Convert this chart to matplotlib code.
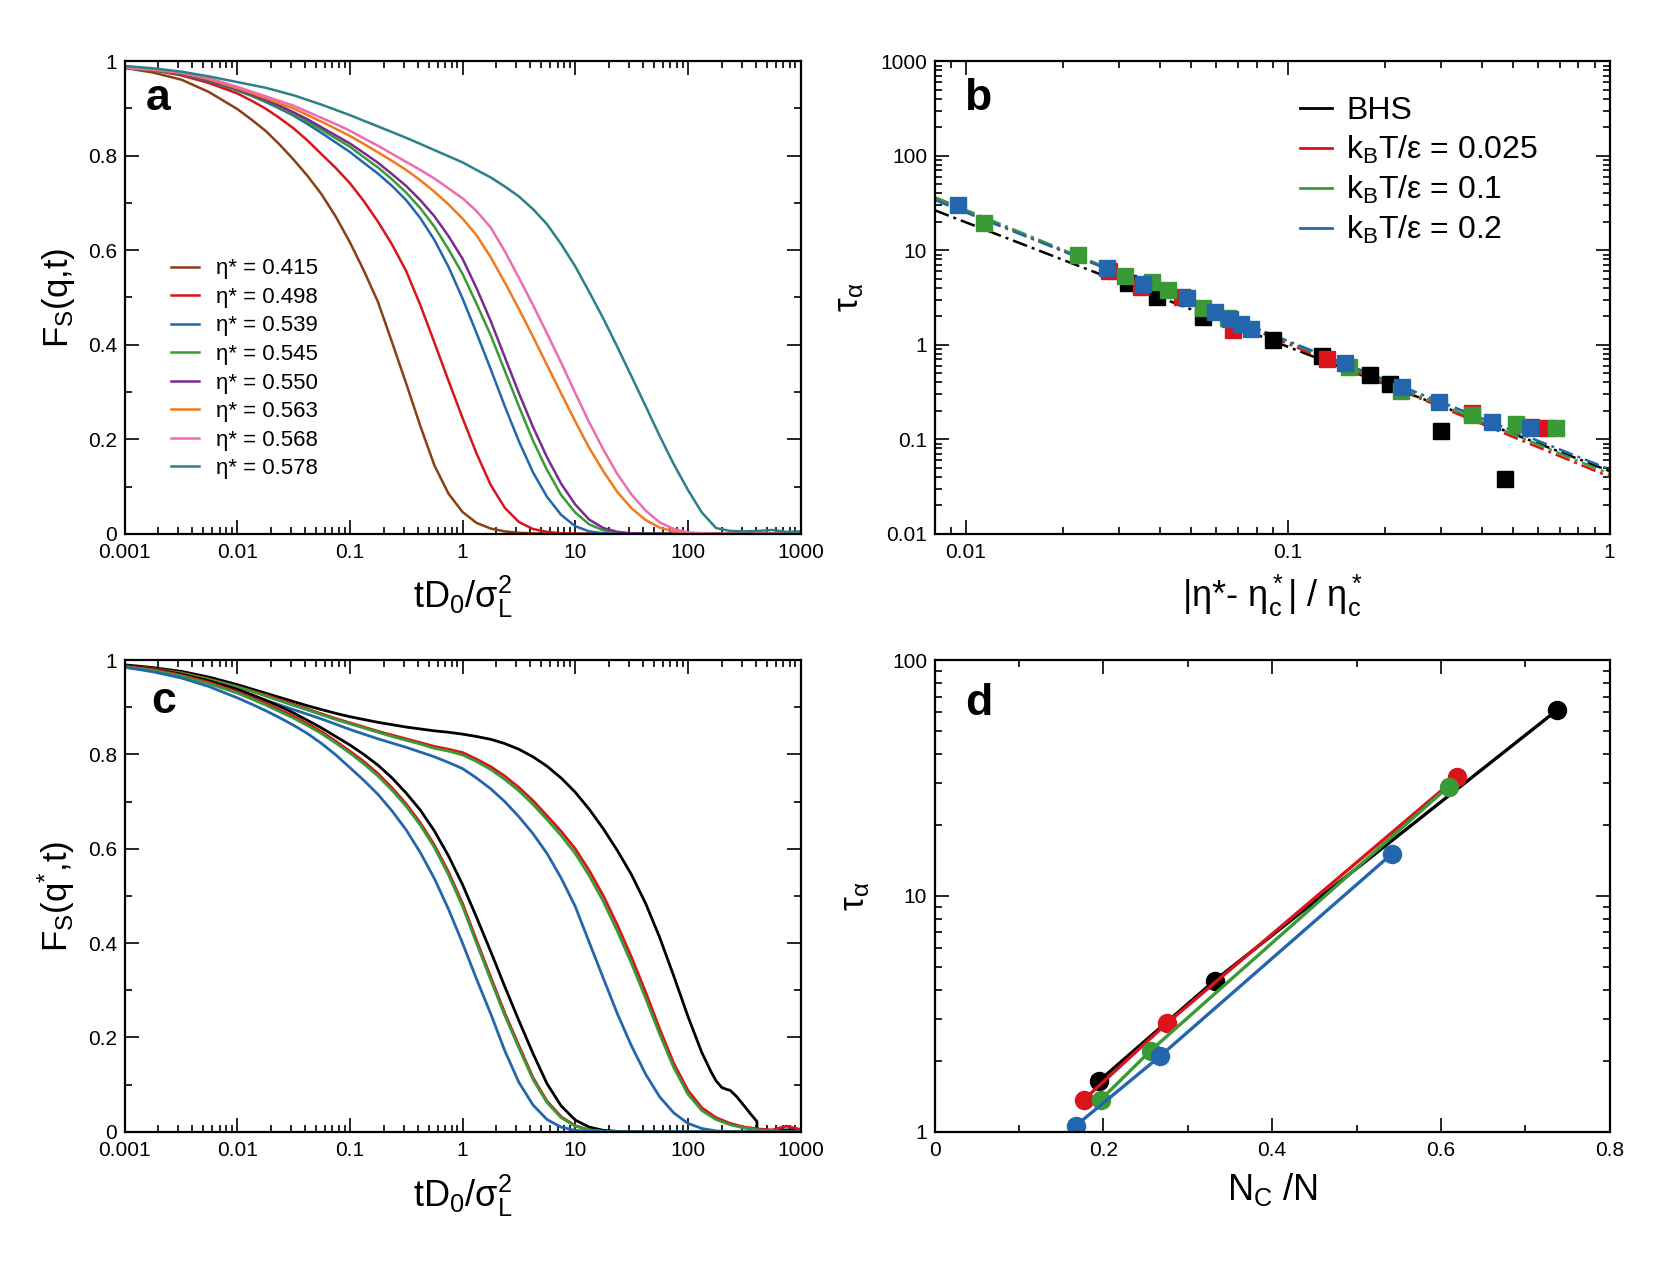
import matplotlib
matplotlib.use('Agg')
import numpy as np
import matplotlib.pyplot as plt
from matplotlib.lines import Line2D
from matplotlib.ticker import FixedLocator, NullFormatter, LogLocator, MultipleLocator

plt.rcParams['font.family'] = ['Liberation Sans', 'DejaVu Sans']
plt.rcParams['mathtext.fontset'] = 'custom'
plt.rcParams['mathtext.rm'] = 'Liberation Sans'
plt.rcParams['mathtext.it'] = 'Liberation Sans'
plt.rcParams['mathtext.bf'] = 'Liberation Sans:bold'

# ---- data ----
# time grid tD0/sigma^2: coarse below 0.01, eighth decades above
t_grid = [0.001, 0.0018, 0.0032, 0.0056,
          0.01, 0.0133, 0.0178, 0.0237, 0.0316, 0.0422, 0.0562, 0.075,
          0.1, 0.133, 0.178, 0.237, 0.316, 0.422, 0.562, 0.75,
          1, 1.33, 1.78, 2.37, 3.16, 4.22, 5.62, 7.5,
          10, 13.3, 17.8, 23.7, 31.6, 42.2, 56.2, 75,
          100, 133, 178, 237, 316, 422, 562, 750, 1000]

# panel a: F_s(q,t) for several packing fractions
eta_labels = ['η* = 0.415', 'η* = 0.498', 'η* = 0.539', 'η* = 0.545',
              'η* = 0.550', 'η* = 0.563', 'η* = 0.568', 'η* = 0.578']
eta_colors = ['#8b3f14', '#d9141b', '#2466ae', '#3a9a35',
              '#7a2b8e', '#f07a1c', '#ec6cb4', '#2c8088']
fa_0415 = [0.986, 0.976, 0.961, 0.935,
           0.899, 0.877, 0.853, 0.824, 0.792, 0.757, 0.718, 0.671, 0.617, 0.557,
           0.490, 0.405, 0.318, 0.228, 0.145, 0.085, 0.046, 0.023, 0.011, 0.005,
           0.002, 0.001] + [0] * 19
fa_0498 = [0.986, 0.981, 0.970, 0.954,
           0.932, 0.917, 0.900, 0.880, 0.858, 0.832, 0.803, 0.774, 0.742, 0.704,
           0.660, 0.612, 0.556, 0.484, 0.405, 0.324, 0.245, 0.170, 0.103, 0.055,
           0.025, 0.010, 0.004, 0.001] + [0] * 17
fa_0539 = [0.986, 0.981, 0.973, 0.958,
           0.938, 0.927, 0.914, 0.900, 0.885, 0.867, 0.848, 0.828, 0.808, 0.785,
           0.762, 0.736, 0.706, 0.668, 0.622, 0.565, 0.498, 0.425, 0.348, 0.270,
           0.196, 0.130, 0.078, 0.040, 0.016, 0.005, 0.001] + [0] * 14
fa_0545 = [0.986, 0.981, 0.973, 0.959,
           0.939, 0.928, 0.916, 0.903, 0.888, 0.872, 0.855, 0.837, 0.819, 0.797,
           0.775, 0.750, 0.722, 0.689, 0.650, 0.602, 0.550, 0.487, 0.420, 0.345,
           0.270, 0.197, 0.135, 0.082, 0.045, 0.020, 0.007, 0.002] + [0] * 13
fa_0550 = [0.986, 0.982, 0.974, 0.960,
           0.941, 0.930, 0.918, 0.906, 0.892, 0.877, 0.860, 0.843, 0.826, 0.806,
           0.785, 0.761, 0.736, 0.706, 0.672, 0.630, 0.582, 0.520, 0.450, 0.374,
           0.298, 0.226, 0.162, 0.106, 0.062, 0.030, 0.012, 0.004, 0.001] + [0] * 12
fa_0563 = [0.986, 0.982, 0.975, 0.962,
           0.943, 0.933, 0.922, 0.911, 0.900, 0.886, 0.872, 0.857, 0.842, 0.825,
           0.807, 0.789, 0.770, 0.748, 0.724, 0.697, 0.667, 0.632, 0.585, 0.532,
           0.476, 0.417, 0.357, 0.297, 0.238, 0.182, 0.132, 0.088, 0.054, 0.029,
           0.013, 0.005, 0.001] + [0] * 8
fa_0568 = [0.987, 0.983, 0.976, 0.964,
           0.946, 0.936, 0.926, 0.916, 0.906, 0.893, 0.880, 0.867, 0.853, 0.837,
           0.821, 0.804, 0.787, 0.770, 0.752, 0.731, 0.710, 0.683, 0.648, 0.598,
           0.542, 0.484, 0.424, 0.362, 0.298, 0.236, 0.178, 0.126, 0.083, 0.049,
           0.024, 0.010, 0.003, 0.001] + [0] * 7
fa_0578 = [0.990, 0.985, 0.978, 0.968,
           0.956, 0.950, 0.944, 0.936, 0.928, 0.918, 0.908, 0.897, 0.886, 0.874,
           0.862, 0.850, 0.838, 0.825, 0.812, 0.799, 0.786, 0.770, 0.754, 0.735,
           0.714, 0.687, 0.655, 0.613, 0.566, 0.512, 0.455, 0.395, 0.333, 0.270,
           0.207, 0.147, 0.093, 0.045, 0.012, 0.006, 0.005, 0.006, 0.008, 0.004, 0.005]
fa_curves = [fa_0415, fa_0498, fa_0539, fa_0545, fa_0550, fa_0563, fa_0568, fa_0578]

# panel b: tau_alpha vs distance to critical packing
bhs_x = [0.0319, 0.0392, 0.0547, 0.0900, 0.128, 0.180, 0.208, 0.300, 0.474]
bhs_y = [4.47, 3.22, 1.98, 1.13, 0.76, 0.477, 0.384, 0.123, 0.0377]
k025_x = [0.0278, 0.035, 0.0468, 0.0678, 0.132, 0.373, 0.570, 0.640]
k025_y = [6.0, 4.1, 3.22, 1.43, 0.70, 0.188, 0.135, 0.130]
k01_x = [0.0114, 0.0223, 0.0312, 0.0378, 0.0426, 0.0547, 0.0654, 0.155, 0.224,
         0.373, 0.512, 0.679]
k01_y = [19.2, 8.9, 5.33, 4.65, 3.79, 2.43, 1.9, 0.585, 0.326, 0.180, 0.145, 0.130]
k02_x = [0.00946, 0.0274, 0.0355, 0.0485, 0.0594, 0.0660, 0.0716, 0.0769, 0.151,
         0.226, 0.294, 0.431, 0.567]
k02_y = [30.1, 6.43, 4.39, 3.1, 2.23, 1.88, 1.65, 1.48, 0.635, 0.354, 0.245, 0.151, 0.130]
# power-law fits (end points)
fit_x = [0.008, 1.0]
fit_bhs = [26.5, 0.046]
fit_k025 = [36.0, 0.040]
fit_k01 = [36.5, 0.043]
fit_k02 = [34.0, 0.048]
b_labels = ['BHS', r'k$_\mathregular{B}$T/ε = 0.025', r'k$_\mathregular{B}$T/ε = 0.1',
            r'k$_\mathregular{B}$T/ε = 0.2']
b_colors = ['black', '#d9141b', '#3a9a35', '#2466ae']

# panel c: F_s(q*,t), two densities, four temperatures
fc_fast_black = [0.988, 0.981, 0.970, 0.956,
                 0.938, 0.927, 0.915, 0.902, 0.888, 0.872, 0.856, 0.838, 0.820, 0.800,
                 0.777, 0.750, 0.718, 0.682, 0.638, 0.585, 0.524, 0.455, 0.382, 0.308,
                 0.236, 0.166, 0.102, 0.055, 0.025, 0.010, 0.003, 0.001] + [0] * 13
fc_fast_red = [0.987, 0.980, 0.968, 0.953,
               0.933, 0.921, 0.909, 0.895, 0.881, 0.865, 0.848, 0.828, 0.807, 0.785,
               0.759, 0.729, 0.695, 0.655, 0.608, 0.551, 0.484, 0.406, 0.328, 0.252,
               0.183, 0.115, 0.065, 0.032, 0.013, 0.004, 0.001] + [0] * 14
fc_fast_green = [0.986, 0.978, 0.966, 0.950,
                 0.930, 0.918, 0.905, 0.891, 0.877, 0.861, 0.844, 0.824, 0.803, 0.780,
                 0.754, 0.724, 0.690, 0.650, 0.603, 0.545, 0.478, 0.400, 0.322, 0.247,
                 0.178, 0.111, 0.062, 0.030, 0.012, 0.004, 0.001] + [0] * 14
fc_fast_blue = [0.985, 0.975, 0.962, 0.944,
                0.920, 0.907, 0.893, 0.878, 0.862, 0.844, 0.823, 0.799, 0.772, 0.745,
                0.715, 0.680, 0.640, 0.592, 0.537, 0.472, 0.400, 0.324, 0.250, 0.172,
                0.105, 0.057, 0.026, 0.010, 0.003, 0.001] + [0] * 15
fc_slow_red = [0.988, 0.982, 0.973, 0.960,
               0.944, 0.935, 0.926, 0.916, 0.906, 0.896, 0.886, 0.876, 0.867, 0.858,
               0.849, 0.841, 0.833, 0.825, 0.817, 0.811, 0.804, 0.790, 0.774, 0.754,
               0.730, 0.702, 0.670, 0.637, 0.600, 0.554, 0.500, 0.438, 0.370, 0.296,
               0.218, 0.145, 0.088, 0.051, 0.030, 0.018, 0.010, 0.006, 0.004, 0.012, 0.005]
fc_slow_green = [0.987, 0.981, 0.972, 0.959,
                 0.943, 0.934, 0.924, 0.914, 0.904, 0.894, 0.884, 0.874, 0.865, 0.856,
                 0.847, 0.838, 0.830, 0.822, 0.813, 0.807, 0.799, 0.785, 0.768, 0.747,
                 0.723, 0.694, 0.662, 0.628, 0.590, 0.543, 0.488, 0.425, 0.357, 0.283,
                 0.207, 0.136, 0.080, 0.045, 0.026, 0.015, 0.008, 0.004, 0.002, 0.001, 0]
fc_slow_blue = [0.985, 0.977, 0.967, 0.953,
                0.935, 0.925, 0.915, 0.905, 0.895, 0.885, 0.875, 0.864, 0.853, 0.843,
                0.833, 0.824, 0.815, 0.805, 0.795, 0.783, 0.770, 0.750, 0.727, 0.700,
                0.668, 0.632, 0.590, 0.538, 0.478, 0.402, 0.325, 0.250, 0.182, 0.122,
                0.074, 0.040, 0.018, 0.007, 0.002] + [0] * 6
# slow BHS curve has a shoulder and a sharp drop near t = 410
t_slow_black = t_grid[:38] + [160, 178, 200, 220, 237, 270, 316, 360, 400, 410, 412,
                              562, 750, 1000]
fc_slow_black = [0.990, 0.984, 0.976, 0.964,
                 0.948, 0.939, 0.930, 0.921, 0.912, 0.903, 0.895, 0.887, 0.880, 0.874,
                 0.868, 0.863, 0.858, 0.854, 0.850, 0.847, 0.843, 0.838, 0.832, 0.823,
                 0.811, 0.795, 0.775, 0.750, 0.720, 0.684, 0.642, 0.596, 0.545, 0.484,
                 0.412, 0.330, 0.245, 0.168,
                 0.128, 0.108, 0.094, 0.090, 0.088, 0.075, 0.055, 0.038, 0.025, 0.022,
                 0.0, 0.003, 0.004, 0.004]

# panel d: tau_alpha vs N_C/N
d_bhs_x = [0.1945, 0.332, 0.738]
d_bhs_y = [1.64, 4.38, 61.5]
d_k025_x = [0.177, 0.275, 0.619]
d_k025_y = [1.37, 2.88, 31.8]
d_k01_x = [0.197, 0.256, 0.609]
d_k01_y = [1.37, 2.21, 29.1]
d_k02_x = [0.167, 0.267, 0.542]
d_k02_y = [1.06, 2.09, 15.1]

t_ticks = [0.001, 0.01, 0.1, 1, 10, 100, 1000]
t_ticklabels = ['0.001', '0.01', '0.1', '1', '10', '100', '1000']
f_ticks = [0, 0.2, 0.4, 0.6, 0.8, 1]
f_ticklabels = ['0', '0.2', '0.4', '0.6', '0.8', '1']

# ---- figure ----
fig = plt.figure(figsize=(16.54, 12.76), dpi=100)
ax_a = fig.add_axes([0.0753, 0.5817, 0.4087, 0.3703])
ax_b = fig.add_axes([0.5651, 0.5817, 0.4081, 0.3703])
ax_c = fig.add_axes([0.0753, 0.1130, 0.4087, 0.3697])
ax_d = fig.add_axes([0.5651, 0.1130, 0.4081, 0.3697])

TICK_FS = 15
LABEL_FS = 25


def style(ax):
    for s in ax.spines.values():
        s.set_linewidth(1.6)
    ax.tick_params(which='both', direction='in', top=True, right=True,
                   labelsize=TICK_FS, width=1.2)
    ax.tick_params(axis='x', which='both', pad=6.5)
    ax.tick_params(axis='y', which='both', pad=5.5)
    ax.tick_params(which='major', length=10)
    ax.tick_params(which='minor', length=5)


def time_axis(ax):
    ax.set_xscale('log')
    ax.set_xlim(0.001, 1000)
    ax.set_ylim(0, 1)
    ax.xaxis.set_major_locator(FixedLocator(t_ticks))
    ax.set_xticklabels(t_ticklabels)
    ax.xaxis.set_minor_locator(LogLocator(base=10, subs=np.arange(2, 10), numticks=20))
    ax.xaxis.set_minor_formatter(NullFormatter())
    ax.set_yticks(f_ticks)
    ax.set_yticklabels(f_ticklabels)
    ax.yaxis.set_minor_locator(MultipleLocator(0.1))
    ax.set_xlabel(r'tD$_\mathregular{0}$/σ$_\mathregular{L}^\mathregular{2}$',
                  fontsize=LABEL_FS + 1, labelpad=9)


# panel a
for f, c, lab in zip(fa_curves, eta_colors, eta_labels):
    ax_a.plot(t_grid, f, color=c, lw=1.8, label=lab)
time_axis(ax_a)
ax_a.set_ylabel(r'F$_\mathregular{S}$(q,t)', fontsize=LABEL_FS, labelpad=8)
ax_a.legend(loc='upper left', bbox_to_anchor=(0.068, 0.583), frameon=False,
            fontsize=16, handlelength=1.3, handletextpad=0.75, labelspacing=0.34,
            borderpad=0, borderaxespad=0)
style(ax_a)
ax_a.text(0.05, 0.922, 'a', transform=ax_a.transAxes, fontsize=32,
          fontweight='bold', ha='center', va='center')

# panel b
fit_style = (0, (6, 2, 1.2, 2))
ax_b.plot(fit_x, fit_bhs, color=b_colors[0], lw=1.8, ls=fit_style)
ax_b.plot(fit_x, fit_k025, color=b_colors[1], lw=1.8, ls=fit_style)
ax_b.plot(fit_x, fit_k01, color=b_colors[2], lw=1.8, ls=fit_style)
ax_b.plot(fit_x, fit_k02, color=b_colors[3], lw=1.8, ls=fit_style)
for xs, ys, c in zip([bhs_x, k025_x, k01_x, k02_x], [bhs_y, k025_y, k01_y, k02_y], b_colors):
    ax_b.plot(xs, ys, ls='none', marker='s', ms=12, color=c, mec=c)
ax_b.set_xscale('log')
ax_b.set_yscale('log')
ax_b.set_xlim(0.008, 1)
ax_b.set_ylim(0.01, 1000)
ax_b.xaxis.set_major_locator(FixedLocator([0.01, 0.1, 1]))
ax_b.set_xticklabels(['0.01', '0.1', '1'])
ax_b.xaxis.set_minor_locator(LogLocator(base=10, subs=np.arange(2, 10), numticks=20))
ax_b.xaxis.set_minor_formatter(NullFormatter())
ax_b.yaxis.set_major_locator(FixedLocator([0.01, 0.1, 1, 10, 100, 1000]))
ax_b.set_yticklabels(['0.01', '0.1', '1', '10', '100', '1000'])
ax_b.yaxis.set_minor_locator(LogLocator(base=10, subs=np.arange(2, 10), numticks=20))
ax_b.yaxis.set_minor_formatter(NullFormatter())
ax_b.set_xlabel(r'|η*- η$^*_\mathregular{c}$| / η$^*_\mathregular{c}$', fontsize=LABEL_FS + 1,
                labelpad=8)
ax_b.set_ylabel(r'τ$_\mathregular{α}$', fontsize=LABEL_FS, labelpad=10)
handles = [Line2D([], [], color=c, lw=2) for c in b_colors]
ax_b.legend(handles, b_labels, loc='upper left', bbox_to_anchor=(0.541, 0.926),
            frameon=False, fontsize=23, handlelength=1.0, handletextpad=0.45,
            labelspacing=0.25, borderpad=0, borderaxespad=0)
style(ax_b)
ax_b.text(0.064, 0.922, 'b', transform=ax_b.transAxes, fontsize=32,
          fontweight='bold', ha='center', va='center')

# panel c
ax_c.plot(t_slow_black, fc_slow_black, color='black', lw=2)
ax_c.plot(t_grid, fc_slow_red, color='#d9141b', lw=2)
ax_c.plot(t_grid, fc_slow_green, color='#3a9a35', lw=2)
ax_c.plot(t_grid, fc_slow_blue, color='#2466ae', lw=2)
ax_c.plot(t_grid, fc_fast_black, color='black', lw=2)
ax_c.plot(t_grid, fc_fast_red, color='#d9141b', lw=2)
ax_c.plot(t_grid, fc_fast_green, color='#3a9a35', lw=2)
ax_c.plot(t_grid, fc_fast_blue, color='#2466ae', lw=2)
time_axis(ax_c)
ax_c.set_ylabel(r'F$_\mathregular{S}$(q$^\mathregular{*}$,t)', fontsize=LABEL_FS, labelpad=8)
style(ax_c)
ax_c.text(0.058, 0.913, 'c', transform=ax_c.transAxes, fontsize=32,
          fontweight='bold', ha='center', va='center')

# panel d
for xs, ys, c in zip([d_bhs_x, d_k025_x, d_k01_x, d_k02_x],
                     [d_bhs_y, d_k025_y, d_k01_y, d_k02_y], b_colors):
    ax_d.plot(xs, ys, color=c, lw=2.4, marker='o', ms=13, mec=c)
ax_d.set_yscale('log')
ax_d.set_xlim(0, 0.8)
ax_d.set_ylim(1, 100)
ax_d.set_xticks([0, 0.2, 0.4, 0.6, 0.8])
ax_d.set_xticklabels(['0', '0.2', '0.4', '0.6', '0.8'])
ax_d.xaxis.set_minor_locator(MultipleLocator(0.1))
ax_d.yaxis.set_major_locator(FixedLocator([1, 10, 100]))
ax_d.set_yticklabels(['1', '10', '100'])
ax_d.yaxis.set_minor_locator(LogLocator(base=10, subs=np.arange(2, 10), numticks=20))
ax_d.yaxis.set_minor_formatter(NullFormatter())
ax_d.set_xlabel(r'N$_\mathregular{C}$ /N', fontsize=LABEL_FS + 1, labelpad=8)
ax_d.set_ylabel(r'τ$_\mathregular{α}$', fontsize=LABEL_FS, labelpad=14)
style(ax_d)
ax_d.text(0.066, 0.908, 'd', transform=ax_d.transAxes, fontsize=32,
          fontweight='bold', ha='center', va='center')

fig.savefig('out.png', dpi=100)
